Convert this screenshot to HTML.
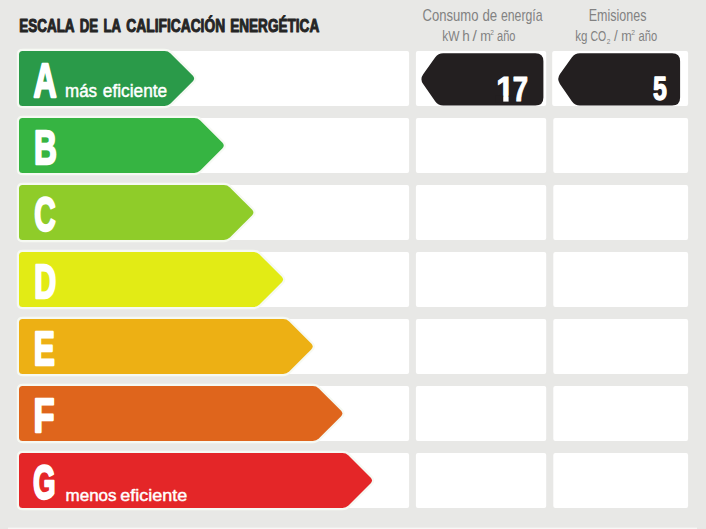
<!DOCTYPE html>
<html><head><meta charset="utf-8"><title>Escala de la calificación energética</title>
<style>html,body{margin:0;padding:0;width:706px;height:529px;overflow:hidden;background:#e8e8e6;font-family:"Liberation Sans",sans-serif}</style>
</head><body>
<svg width="706" height="529" viewBox="0 0 706 529" style="display:block;font-family:'Liberation Sans',sans-serif;font-kerning:none"><rect width="706" height="529" fill="#e8e8e6"/>
<rect x="8" y="527.6" width="689" height="1.4" fill="#f7f7f6"/>
<rect x="19" y="51" width="390.1" height="55" rx="2" fill="#ffffff"/>
<rect x="415.9" y="51" width="130.3" height="55" rx="2" fill="#ffffff"/>
<rect x="552.2" y="51" width="135.9" height="55" rx="2" fill="#ffffff"/>
<rect x="19" y="118" width="390.1" height="55" rx="2" fill="#ffffff"/>
<rect x="415.9" y="118" width="130.3" height="55" rx="2" fill="#ffffff"/>
<rect x="553.3" y="118" width="134.8" height="55" rx="2" fill="#ffffff"/>
<rect x="19" y="185" width="390.1" height="55" rx="2" fill="#ffffff"/>
<rect x="415.9" y="185" width="130.3" height="55" rx="2" fill="#ffffff"/>
<rect x="553.3" y="185" width="134.8" height="55" rx="2" fill="#ffffff"/>
<rect x="19" y="252" width="390.1" height="55" rx="2" fill="#ffffff"/>
<rect x="415.9" y="252" width="130.3" height="55" rx="2" fill="#ffffff"/>
<rect x="553.3" y="252" width="134.8" height="55" rx="2" fill="#ffffff"/>
<rect x="19" y="319" width="390.1" height="55" rx="2" fill="#ffffff"/>
<rect x="415.9" y="319" width="130.3" height="55" rx="2" fill="#ffffff"/>
<rect x="553.3" y="319" width="134.8" height="55" rx="2" fill="#ffffff"/>
<rect x="19" y="386" width="390.1" height="55" rx="2" fill="#ffffff"/>
<rect x="415.9" y="386" width="130.3" height="55" rx="2" fill="#ffffff"/>
<rect x="553.3" y="386" width="134.8" height="55" rx="2" fill="#ffffff"/>
<rect x="19" y="453" width="390.1" height="55" rx="2" fill="#ffffff"/>
<rect x="415.9" y="453" width="130.3" height="55" rx="2" fill="#ffffff"/>
<rect x="553.3" y="453" width="134.8" height="55" rx="2" fill="#ffffff"/>
<path fill="#fff" stroke="#f6f9f3" stroke-width="4.4" d="M22.50 51.00 L164.60 51.00 Q168.10 51.00 170.57 53.47 L192.63 75.53 Q195.60 78.50 192.63 81.47 L170.57 103.53 Q168.10 106.00 164.60 106.00 L22.50 106.00 Q19.00 106.00 19.00 102.50 L19.00 54.50 Q19.00 51.00 22.50 51.00 Z"/>
<path fill="#2a9a49" d="M22.50 51.00 L164.60 51.00 Q168.10 51.00 170.57 53.47 L192.63 75.53 Q195.60 78.50 192.63 81.47 L170.57 103.53 Q168.10 106.00 164.60 106.00 L22.50 106.00 Q19.00 106.00 19.00 102.50 L19.00 54.50 Q19.00 51.00 22.50 51.00 Z"/>
<text transform="translate(33.502 97.000) scale(0.67219 1)" font-size="47.675" font-weight="bold" fill="#fff" stroke="#fff" stroke-width="2.00" stroke-linejoin="round" vector-effect="non-scaling-stroke">A</text>
<path fill="#fff" stroke="#f6f9f3" stroke-width="4.4" d="M22.50 118.00 L194.25 118.00 Q197.75 118.00 200.22 120.47 L222.28 142.53 Q225.25 145.50 222.28 148.47 L200.22 170.53 Q197.75 173.00 194.25 173.00 L22.50 173.00 Q19.00 173.00 19.00 169.50 L19.00 121.50 Q19.00 118.00 22.50 118.00 Z"/>
<path fill="#36b442" d="M22.50 118.00 L194.25 118.00 Q197.75 118.00 200.22 120.47 L222.28 142.53 Q225.25 145.50 222.28 148.47 L200.22 170.53 Q197.75 173.00 194.25 173.00 L22.50 173.00 Q19.00 173.00 19.00 169.50 L19.00 121.50 Q19.00 118.00 22.50 118.00 Z"/>
<text transform="translate(33.883 164.000) scale(0.66379 1)" font-size="47.675" font-weight="bold" fill="#fff" stroke="#fff" stroke-width="2.00" stroke-linejoin="round" vector-effect="non-scaling-stroke">B</text>
<path fill="#fff" stroke="#f6f9f3" stroke-width="4.4" d="M22.50 185.00 L223.90 185.00 Q227.40 185.00 229.87 187.47 L251.93 209.53 Q254.90 212.50 251.93 215.47 L229.87 237.53 Q227.40 240.00 223.90 240.00 L22.50 240.00 Q19.00 240.00 19.00 236.50 L19.00 188.50 Q19.00 185.00 22.50 185.00 Z"/>
<path fill="#8fcc29" d="M22.50 185.00 L223.90 185.00 Q227.40 185.00 229.87 187.47 L251.93 209.53 Q254.90 212.50 251.93 215.47 L229.87 237.53 Q227.40 240.00 223.90 240.00 L22.50 240.00 Q19.00 240.00 19.00 236.50 L19.00 188.50 Q19.00 185.00 22.50 185.00 Z"/>
<text transform="translate(34.283 231.000) scale(0.62238 1)" font-size="47.675" font-weight="bold" fill="#fff" stroke="#fff" stroke-width="2.00" stroke-linejoin="round" vector-effect="non-scaling-stroke">C</text>
<path fill="#fff" stroke="#f6f9f3" stroke-width="4.4" d="M22.50 252.00 L253.55 252.00 Q257.05 252.00 259.52 254.47 L281.58 276.53 Q284.55 279.50 281.58 282.47 L259.52 304.53 Q257.05 307.00 253.55 307.00 L22.50 307.00 Q19.00 307.00 19.00 303.50 L19.00 255.50 Q19.00 252.00 22.50 252.00 Z"/>
<path fill="#e2eb15" d="M22.50 252.00 L253.55 252.00 Q257.05 252.00 259.52 254.47 L281.58 276.53 Q284.55 279.50 281.58 282.47 L259.52 304.53 Q257.05 307.00 253.55 307.00 L22.50 307.00 Q19.00 307.00 19.00 303.50 L19.00 255.50 Q19.00 252.00 22.50 252.00 Z"/>
<text transform="translate(34.160 298.000) scale(0.63957 1)" font-size="47.675" font-weight="bold" fill="#fff" stroke="#fff" stroke-width="2.00" stroke-linejoin="round" vector-effect="non-scaling-stroke">D</text>
<path fill="#fff" stroke="#f6f9f3" stroke-width="4.4" d="M22.50 319.00 L283.20 319.00 Q286.70 319.00 289.17 321.47 L311.23 343.53 Q314.20 346.50 311.23 349.47 L289.17 371.53 Q286.70 374.00 283.20 374.00 L22.50 374.00 Q19.00 374.00 19.00 370.50 L19.00 322.50 Q19.00 319.00 22.50 319.00 Z"/>
<path fill="#edb014" d="M22.50 319.00 L283.20 319.00 Q286.70 319.00 289.17 321.47 L311.23 343.53 Q314.20 346.50 311.23 349.47 L289.17 371.53 Q286.70 374.00 283.20 374.00 L22.50 374.00 Q19.00 374.00 19.00 370.50 L19.00 322.50 Q19.00 319.00 22.50 319.00 Z"/>
<text transform="translate(33.678 365.000) scale(0.66548 1)" font-size="47.675" font-weight="bold" fill="#fff" stroke="#fff" stroke-width="2.00" stroke-linejoin="round" vector-effect="non-scaling-stroke">E</text>
<path fill="#fff" stroke="#f6f9f3" stroke-width="4.4" d="M22.50 386.00 L312.85 386.00 Q316.35 386.00 318.82 388.47 L340.88 410.53 Q343.85 413.50 340.88 416.47 L318.82 438.53 Q316.35 441.00 312.85 441.00 L22.50 441.00 Q19.00 441.00 19.00 437.50 L19.00 389.50 Q19.00 386.00 22.50 386.00 Z"/>
<path fill="#df651c" d="M22.50 386.00 L312.85 386.00 Q316.35 386.00 318.82 388.47 L340.88 410.53 Q343.85 413.50 340.88 416.47 L318.82 438.53 Q316.35 441.00 312.85 441.00 L22.50 441.00 Q19.00 441.00 19.00 437.50 L19.00 389.50 Q19.00 386.00 22.50 386.00 Z"/>
<text transform="translate(33.492 432.000) scale(0.72354 1)" font-size="47.675" font-weight="bold" fill="#fff" stroke="#fff" stroke-width="2.00" stroke-linejoin="round" vector-effect="non-scaling-stroke">F</text>
<path fill="#fff" stroke="#f6f9f3" stroke-width="4.4" d="M22.50 453.00 L342.50 453.00 Q346.00 453.00 348.47 455.47 L370.53 477.53 Q373.50 480.50 370.53 483.47 L348.47 505.53 Q346.00 508.00 342.50 508.00 L22.50 508.00 Q19.00 508.00 19.00 504.50 L19.00 456.50 Q19.00 453.00 22.50 453.00 Z"/>
<path fill="#e42628" d="M22.50 453.00 L342.50 453.00 Q346.00 453.00 348.47 455.47 L370.53 477.53 Q373.50 480.50 370.53 483.47 L348.47 505.53 Q346.00 508.00 342.50 508.00 L22.50 508.00 Q19.00 508.00 19.00 504.50 L19.00 456.50 Q19.00 453.00 22.50 453.00 Z"/>
<text transform="translate(33.009 499.000) scale(0.60924 1)" font-size="47.675" font-weight="bold" fill="#fff" stroke="#fff" stroke-width="2.00" stroke-linejoin="round" vector-effect="non-scaling-stroke">G</text>
<text transform="translate(64.997 97.475) scale(0.94971 1)" font-size="17.887" fill="#fff" stroke="#fff" stroke-width="0.45" stroke-linejoin="round" vector-effect="non-scaling-stroke">más</text>
<text transform="translate(102.790 97.475) scale(0.96746 1)" font-size="17.887" fill="#fff" stroke="#fff" stroke-width="0.45" stroke-linejoin="round" vector-effect="non-scaling-stroke">eficiente</text>
<text transform="translate(65.495 500.575) scale(1.02787 1)" font-size="16.562" fill="#fff" stroke="#fff" stroke-width="0.45" stroke-linejoin="round" vector-effect="non-scaling-stroke">menos</text>
<text transform="translate(120.261 500.575) scale(1.08636 1)" font-size="16.562" fill="#fff" stroke="#fff" stroke-width="0.45" stroke-linejoin="round" vector-effect="non-scaling-stroke">eficiente</text>
<text transform="translate(19.249 31.650) scale(0.77193 1)" font-size="17.442" font-weight="bold" fill="#252525" stroke="#252525" stroke-width="0.90" stroke-linejoin="round" vector-effect="non-scaling-stroke">ESCALA</text>
<text transform="translate(79.664 31.650) scale(0.75954 1)" font-size="17.442" font-weight="bold" fill="#252525" stroke="#252525" stroke-width="0.90" stroke-linejoin="round" vector-effect="non-scaling-stroke">DE</text>
<text transform="translate(103.476 31.650) scale(0.74917 1)" font-size="17.442" font-weight="bold" fill="#252525" stroke="#252525" stroke-width="0.90" stroke-linejoin="round" vector-effect="non-scaling-stroke">LA</text>
<text transform="translate(126.284 31.650) scale(0.79123 1)" font-size="17.442" font-weight="bold" fill="#252525" stroke="#252525" stroke-width="0.90" stroke-linejoin="round" vector-effect="non-scaling-stroke">CALIFICACIÓN</text>
<text transform="translate(230.140 31.650) scale(0.77976 1)" font-size="17.442" font-weight="bold" fill="#252525" stroke="#252525" stroke-width="0.90" stroke-linejoin="round" vector-effect="non-scaling-stroke">ENERGÉTICA</text>
<text transform="translate(422.537 20.700) scale(0.78842 1)" font-size="16.570" fill="#828282">Consumo</text>
<text transform="translate(482.443 20.700) scale(0.80005 1)" font-size="16.570" fill="#828282">de</text>
<text transform="translate(500.877 20.700) scale(0.74241 1)" font-size="16.570" fill="#828282">energía</text>
<text transform="translate(442.295 40.700) scale(0.83852 1)" font-size="14.244" fill="#828282">kW</text>
<text transform="translate(462.263 40.700) scale(0.94852 1)" font-size="14.244" fill="#828282">h</text>
<text transform="translate(472.400 40.700) scale(1.08653 1)" font-size="14.244" fill="#828282">/</text>
<text transform="translate(480.147 40.700) scale(0.90173 1)" font-size="14.244" fill="#828282">m</text>
<text transform="translate(497.031 40.700) scale(0.77561 1)" font-size="14.244" fill="#828282">año</text>
<text transform="translate(490.269 35.200) scale(0.92460 1)" font-size="7.122" fill="#828282">2</text>
<text transform="translate(588.772 20.700) scale(0.75595 1)" font-size="16.570" fill="#828282">Emisiones</text>
<text transform="translate(575.220 40.700) scale(0.81268 1)" font-size="14.244" fill="#828282">kg</text>
<text transform="translate(590.467 40.700) scale(0.73641 1)" font-size="14.244" fill="#828282">CO</text>
<text transform="translate(613.900 40.700) scale(0.93492 1)" font-size="14.244" fill="#828282">/</text>
<text transform="translate(621.366 40.700) scale(0.88169 1)" font-size="14.244" fill="#828282">m</text>
<text transform="translate(638.525 40.700) scale(0.78447 1)" font-size="14.244" fill="#828282">año</text>
<text transform="translate(606.769 44.400) scale(0.96395 1)" font-size="6.832" fill="#828282">2</text>
<text transform="translate(631.358 35.100) scale(0.95542 1)" font-size="7.122" fill="#828282">2</text>
<path fill="#231f20" d="M423.19 74.32 L435.29 57.37 Q438.20 53.30 443.20 53.30 L535.40 53.30 Q543.40 53.30 543.40 61.30 L543.40 97.50 Q543.40 105.50 535.40 105.50 L443.20 105.50 Q438.20 105.50 435.32 101.41 L423.15 84.11 Q419.70 79.20 423.19 74.32 Z"/>
<path fill="#231f20" d="M559.99 74.12 L571.95 57.37 Q574.86 53.30 579.86 53.30 L672.10 53.30 Q680.10 53.30 680.10 61.30 L680.10 97.50 Q680.10 105.50 672.10 105.50 L579.86 105.50 Q574.86 105.50 572.01 101.39 L559.92 83.93 Q556.50 79.00 559.99 74.12 Z"/>
<text transform="translate(496.329 100.500) scale(0.91050 1)" font-size="34.884" font-weight="bold" fill="#fff" stroke="#fff" stroke-width="1.00" vector-effect="non-scaling-stroke">1</text>
<rect x="495.24" y="95.64" width="8.00" height="6.86" fill="#231f20"/>
<rect x="508.60" y="95.64" width="6.00" height="6.86" fill="#231f20"/>
<text transform="translate(512.719 100.500) scale(0.78807 1)" font-size="34.884" font-weight="bold" fill="#fff" stroke="#fff" stroke-width="1.00" stroke-linejoin="round" vector-effect="non-scaling-stroke">7</text>
<text transform="translate(653.033 99.900) scale(0.73587 1)" font-size="33.867" font-weight="bold" fill="#fff" stroke="#fff" stroke-width="1.20" stroke-linejoin="round" vector-effect="non-scaling-stroke">5</text></svg>
</body></html>
